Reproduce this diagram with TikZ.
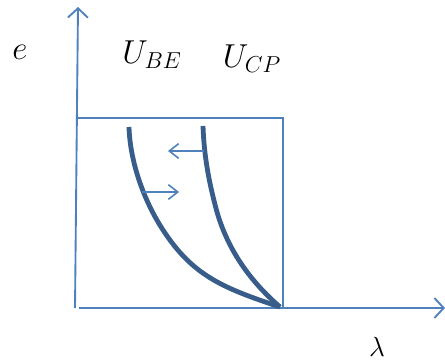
\documentclass[tikz,border=0pt]{standalone}
\usepackage{amsmath,amssymb}
\usepackage{tikz}
\usetikzlibrary{arrows.meta,positioning,calc}

\definecolor{axisblue}{HTML}{4F81BD}
\definecolor{curveblue}{HTML}{385D8A}

\begin{document}
\begin{tikzpicture}[x=0.75pt, y=-0.75pt,
  axis/.style={axisblue, line width=1.4pt, -{Straight Barb[length=7pt, width=15pt]}},
  boxline/.style={axisblue, line width=1.4pt},
  curve/.style={curveblue, line width=3.6pt},
  movearrow/.style={axisblue, line width=1.2pt, -{Straight Barb[length=7pt, width=11pt]}},
  lbl/.style={font=\fontsize{23}{27}\selectfont, inner sep=0pt}]
\useasboundingbox (0,0) rectangle (445,363);
% axes
\coordinate (O) at (75,308);
\coordinate (ytop) at (78,7);
\coordinate (xstart) at (79,308);
\coordinate (xend) at (445,308);
\draw[axis] (O) -- (ytop);
\draw[axis] (xstart) -- (xend);
% box
\coordinate (boxtl) at (78,118);
\coordinate (boxtr) at (283,118);
\coordinate (boxbr) at (283,308);
\draw[boxline] (boxtl) -- (boxtr) -- (boxbr);
% curves
\coordinate (tip) at (280,307);
\draw[curve] (129,127) .. controls (130,162) and (144,201) .. (163,230)
  .. controls (193,276) and (223,288) .. (tip);
\draw[curve] (203,126) .. controls (204,156) and (209,183) .. (217,212)
  .. controls (228,250) and (250,281) .. (tip);
% shift arrows
\coordinate (a1) at (204,151);
\coordinate (a2) at (168,151);
\coordinate (b1) at (142,192);
\coordinate (b2) at (179,192);
\draw[movearrow] (a1) -- (a2);
\draw[movearrow] (b1) -- (b2);
% labels
\node[lbl] (elbl) at (20,52) {$e$};
\node[lbl] (ube) at (152,55) {$U_{BE}$};
\node[lbl] (ucp) at (252,59) {$U_{CP}$};
\node[lbl, font=\fontsize{22}{26}\selectfont] (lam) at (377,347) {$\lambda$};
\end{tikzpicture}
\end{document}
